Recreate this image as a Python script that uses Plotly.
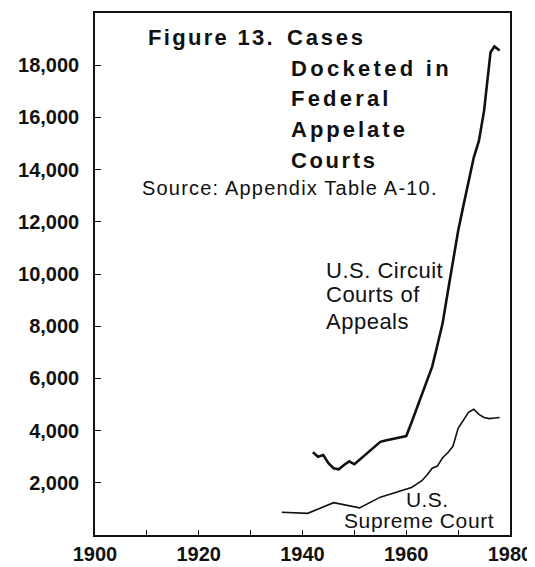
import plotly.graph_objects as go

# ---- data ----
circuit_years = [1942, 1943, 1944, 1945, 1946, 1947, 1948, 1949, 1950, 1951, 1952, 1953,
                 1954, 1955, 1956, 1957, 1958, 1959, 1960, 1961, 1962, 1963, 1964, 1965,
                 1966, 1967, 1968, 1969, 1970, 1971, 1972, 1973, 1974, 1975, 1976, 1976.25,
                 1977, 1978]
circuit_cases = [3170, 3000, 3060, 2750, 2560, 2520, 2680, 2820, 2710, 2880, 3050, 3230,
                 3400, 3570, 3620, 3660, 3700, 3750, 3790, 4300, 4850, 5400, 5940, 6450,
                 7270, 8100, 9300, 10550, 11650, 12600, 13550, 14450, 15100, 16250, 18050, 18500,
                 18720, 18560]

supreme_years = [1936, 1941, 1946, 1951, 1955, 1960, 1961, 1962, 1963, 1964, 1965, 1966,
                 1967, 1968, 1969, 1970, 1971, 1972, 1973, 1974, 1975, 1976, 1977, 1978]
supreme_cases = [870, 830, 1240, 1040, 1450, 1750, 1820, 1950, 2080, 2300, 2560, 2640,
                 2960, 3150, 3400, 4090, 4400, 4700, 4820, 4620, 4500, 4460, 4480, 4500]

x_tick_vals = [1900, 1910, 1920, 1930, 1940, 1950, 1960, 1970, 1980]
x_tick_text = ["1900", "", "1920", "", "1940", "", "1960", "", "1980"]
y_tick_vals = [2000, 4000, 6000, 8000, 10000, 12000, 14000, 16000, 18000]
y_tick_text = ["2,000", "4,000", "6,000", "8,000", "10,000", "12,000", "14,000", "16,000", "18,000"]

FONT = "Liberation Sans, Arial, Helvetica, sans-serif"
INK = "#111111"

# page offset of the plot div (default body margin)
OFF = 8
W, H = 535 - OFF, 567 - OFF
# plot-area edges in page pixels
L, R, T, B = 95, 510, 13, 535


def px(x):
    return (x - L) / (R - L)


def py(y):
    return (B - y) / (B - T)


fig = go.Figure()
fig.add_trace(go.Scatter(x=circuit_years, y=circuit_cases, mode="lines",
                         line=dict(color=INK, width=2.6), showlegend=False,
                         name="U.S. Circuit Courts of Appeals"))
fig.add_trace(go.Scatter(x=supreme_years, y=supreme_cases, mode="lines",
                         line=dict(color=INK, width=1.6), showlegend=False,
                         name="U.S. Supreme Court"))


def ann(text, x, y, size, bold=False, spacing=0):
    if spacing:
        text = '<span style="letter-spacing:%spx">%s</span>' % (spacing, text)
    fig.add_annotation(text=text, x=px(x), y=py(y), xref="paper", yref="paper",
                       xanchor="left", yanchor="middle", showarrow=False,
                       borderpad=0,
                       font=dict(family=FONT, size=size, color=INK,
                                 weight="bold" if bold else "normal"))


ann("Figure 13.", 147, 38, 22, True, 2.3)
ann("Cases", 286, 38, 22, True, 2.8)
ann("Docketed in", 290, 68.5, 22, True, 3.3)
ann("Federal", 290, 99, 22, True, 3.2)
ann("Appelate", 290, 129.5, 22, True, 3.0)
ann("Courts", 290, 160, 22, True, 2.6)
ann("Source: Appendix Table A-10.", 141, 188, 20, False, 1.2)
ann("U.S. Circuit", 325, 270.5, 22, False, 0.5)
ann("Courts of", 325, 294.5, 22, False, 0.5)
ann("Appeals", 325, 321.5, 22, False, 0.5)
ann("U.S.", 405, 499, 21, False, 0.4)
ann("Supreme Court", 343, 520.5, 21, False, 0.6)

fig.update_layout(
    width=W, height=H,
    margin=dict(l=L - OFF, r=W - (R - OFF), t=T - OFF, b=H - (B - OFF), pad=0),
    paper_bgcolor="white", plot_bgcolor="white",
    showlegend=False,
    font=dict(family=FONT, color=INK),
    xaxis=dict(range=[1900, 1980], tickvals=x_tick_vals, ticktext=x_tick_text,
               ticks="inside", ticklen=5, tickwidth=1.2, tickcolor=INK,
               showline=True, linecolor=INK, linewidth=1.6, mirror=True,
               showgrid=False, zeroline=False, automargin=False,
               ticklabelstandoff=0,
               tickfont=dict(family=FONT, size=20, color=INK, weight="bold")),
    yaxis=dict(range=[0, 20000], tickvals=y_tick_vals, ticktext=y_tick_text,
               ticks="inside", ticklen=6, tickwidth=1.2, tickcolor=INK,
               showline=True, linecolor=INK, linewidth=1.6, mirror=True,
               showgrid=False, zeroline=False, automargin=False,
               ticklabelstandoff=10,
               tickfont=dict(family=FONT, size=20, color=INK, weight="bold")),
)

fig.write_html("out.html")
